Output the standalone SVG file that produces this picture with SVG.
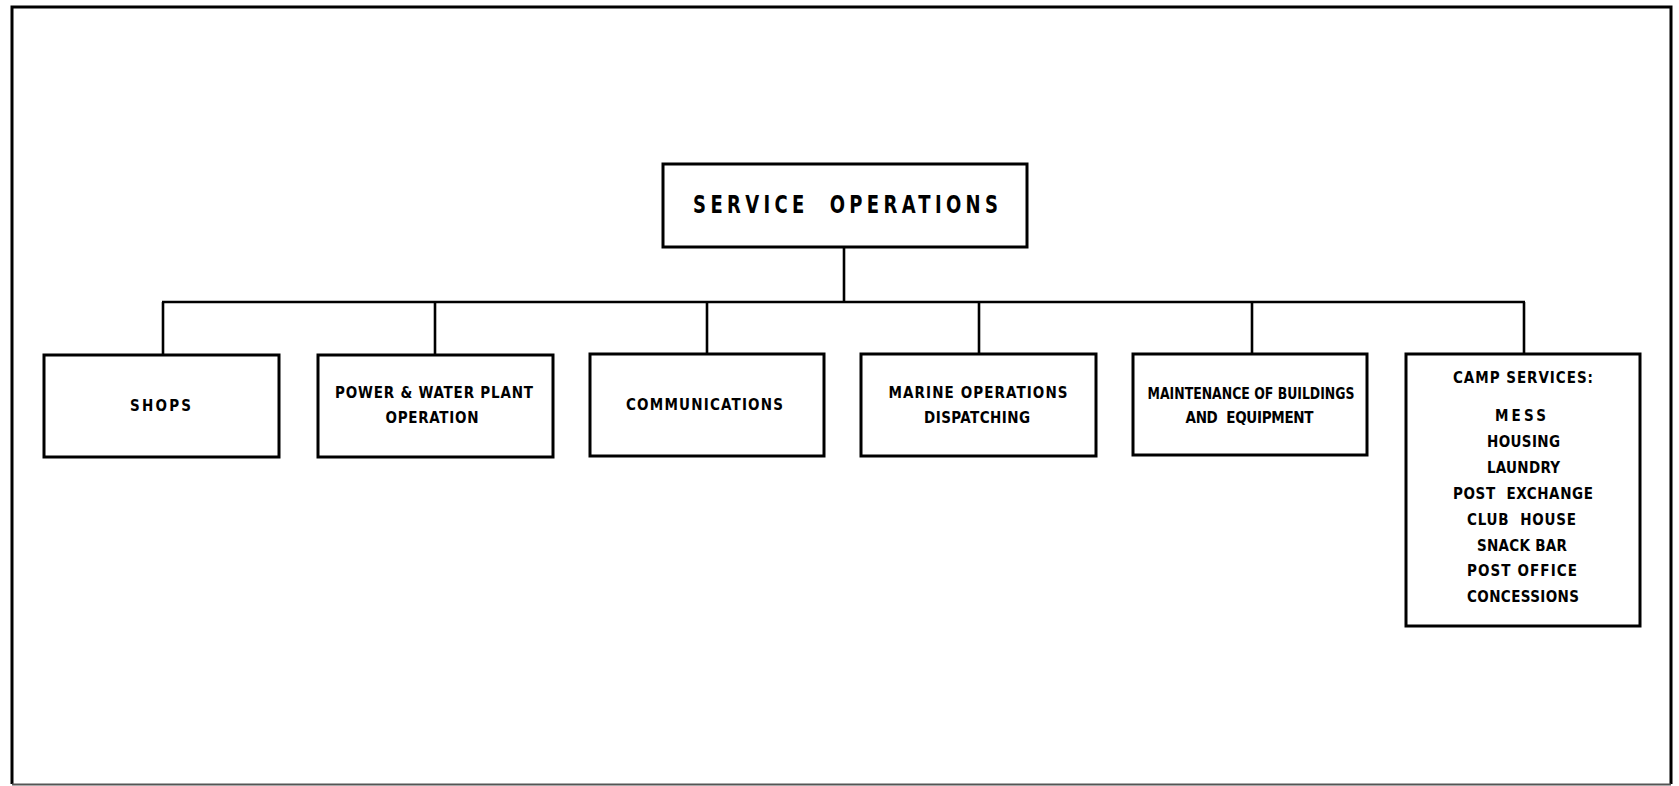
<svg xmlns="http://www.w3.org/2000/svg" width="1679" height="786" viewBox="0 0 1679 786">
  <style>
    .box { fill: #ffffff; stroke: #000000; stroke-width: 3; }
    .frame { fill: none; stroke: #000000; stroke-width: 3; }
    .wire { fill: none; stroke: #000000; stroke-width: 2.6; }
    .lbl { font-family: "Liberation Sans Narrow", "DejaVu Sans Condensed", "Liberation Sans", sans-serif; font-weight: bold; font-size: 15px; fill: #000000; text-anchor: middle; white-space: pre; }
    .title { font-size: 25px; }
  </style>

  <rect width="1679" height="786" fill="#ffffff"/>

  <!-- page border -->
  <g id="border">
    <path class="frame" d="M12,784 V7 H1671 V784"/>
    <line x1="12" y1="784.5" x2="1671" y2="784.5" stroke="#555555" stroke-width="2"/>
  </g>

  <!-- connectors -->
  <g id="connectors">
    <line class="wire" x1="844" y1="247" x2="844" y2="302"/>
    <line class="wire" x1="162" y1="302" x2="1525" y2="302"/>
    <line class="wire" x1="163" y1="302" x2="163" y2="354"/>
    <line class="wire" x1="435" y1="302" x2="435" y2="354"/>
    <line class="wire" x1="707" y1="302" x2="707" y2="354"/>
    <line class="wire" x1="979" y1="302" x2="979" y2="354"/>
    <line class="wire" x1="1252" y1="302" x2="1252" y2="354"/>
    <line class="wire" x1="1524" y1="302" x2="1524" y2="354"/>
  </g>

  <g id="service-operations">
    <rect class="box" x="663" y="164" width="364" height="83"/>
    <!-- narrowed glyphs, spread over the box width -->
    <text class="lbl title" transform="scale(0.8 1)" x="1056.9" y="213" textLength="381" lengthAdjust="spacing" xml:space="preserve">SERVICE  OPERATIONS</text>
  </g>

  <g id="shops">
    <rect class="box" x="44" y="355" width="235" height="102"/>
    <text class="lbl" x="160.5" y="411" textLength="61" lengthAdjust="spacing">SHOPS</text>
  </g>

  <g id="power-water">
    <rect class="box" x="318" y="355" width="235" height="102"/>
    <text class="lbl" x="434" y="398" textLength="198" lengthAdjust="spacing">POWER &amp; WATER PLANT</text>
    <text class="lbl" x="432" y="423" textLength="93" lengthAdjust="spacing">OPERATION</text>
  </g>

  <g id="communications">
    <rect class="box" x="590" y="354" width="234" height="102"/>
    <text class="lbl" x="704.5" y="410" textLength="157" lengthAdjust="spacing">COMMUNICATIONS</text>
  </g>

  <g id="marine-operations">
    <rect class="box" x="861" y="354" width="235" height="102"/>
    <text class="lbl" x="978" y="398" textLength="179" lengthAdjust="spacing">MARINE OPERATIONS</text>
    <text class="lbl" x="977" y="423" textLength="106" lengthAdjust="spacing">DISPATCHING</text>
  </g>

  <g id="maintenance">
    <rect class="box" x="1133" y="354" width="234" height="101"/>
    <text class="lbl" x="1251" y="399" textLength="207" lengthAdjust="spacingAndGlyphs">MAINTENANCE OF BUILDINGS</text>
    <text class="lbl" x="1249.5" y="423" textLength="128" lengthAdjust="spacing" xml:space="preserve">AND  EQUIPMENT</text>
  </g>

  <g id="camp-services">
    <rect class="box" x="1406" y="354" width="234" height="272"/>
    <text class="lbl" x="1523" y="383" textLength="140" lengthAdjust="spacing">CAMP SERVICES:</text>
    <text class="lbl" x="1520.5" y="421" textLength="51" lengthAdjust="spacing">MESS</text>
    <text class="lbl" x="1523.5" y="447" textLength="73" lengthAdjust="spacing">HOUSING</text>
    <text class="lbl" x="1523.5" y="473" textLength="73" lengthAdjust="spacing">LAUNDRY</text>
    <text class="lbl" x="1523" y="499" textLength="140" lengthAdjust="spacing" xml:space="preserve">POST  EXCHANGE</text>
    <text class="lbl" x="1521.5" y="525" textLength="109" lengthAdjust="spacing" xml:space="preserve">CLUB  HOUSE</text>
    <text class="lbl" x="1522" y="551" textLength="90" lengthAdjust="spacing">SNACK BAR</text>
    <text class="lbl" x="1522" y="576" textLength="110" lengthAdjust="spacing">POST OFFICE</text>
    <text class="lbl" x="1523" y="602" textLength="112" lengthAdjust="spacing">CONCESSIONS</text>
  </g>
</svg>
